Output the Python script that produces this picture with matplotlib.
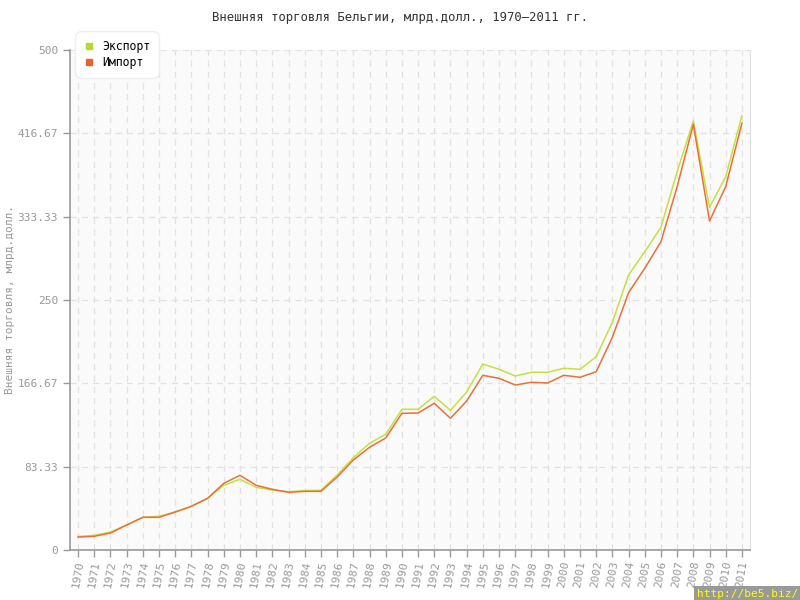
import matplotlib.pyplot as plt
from matplotlib.lines import Line2D

plt.rcParams['font.family'] = ['DejaVu Sans Mono']

# years and trade values, bln USD
years = list(range(1970, 2012))
export = [13.5, 14.7, 18, 25, 32.7, 33.7, 38, 43.7, 51.7, 64.7,
          70.7, 62.7, 60, 58.3, 59.3, 59.7, 75, 92.3, 106.7, 115.7,
          140.7, 140.7, 153.7, 139.7, 158, 186, 180.7, 174, 177.7, 177.7,
          181.7, 180.7, 193.3, 227.7, 275, 298.3, 322.7, 378.3, 429, 342.7,
          373.3, 434.3]
imports = [13, 13.7, 17, 25, 32.7, 32.7, 38, 43.7, 51.7, 66.7,
           74.7, 64.7, 60.7, 57.7, 58.7, 58.7, 73, 90, 102.7, 112,
           136.7, 137, 146.7, 131.7, 149, 174.7, 171.7, 165, 167.7, 167,
           174.7, 172.7, 178.3, 212.7, 257.3, 281.7, 308.3, 363.3, 425.7, 329,
           363.3, 426.7]
yticks = [0, 83.33, 166.67, 250, 333.33, 416.67, 500]
ytick_labels = ['0', '83.33', '166.67', '250', '333.33', '416.67', '500']

exp_color = '#c5e040'
imp_color = '#e8703a'
gray = '#999999'

fig = plt.figure(figsize=(8, 6), dpi=100)
ax = fig.add_axes([0.0875, 0.0833, 0.85, 0.8334])
ax.set_facecolor('#fafafa')

ax.plot(years, export, color=exp_color, lw=1.1, zorder=3)
ax.plot(years, imports, color=imp_color, lw=1.1, zorder=4)

ax.set_xlim(1969.5, 2011.5)
ax.set_ylim(0, 500)
ax.set_xticks(years)
ax.set_xticklabels([str(y) for y in years], rotation=80, fontsize=8, color=gray)
ax.set_yticks(yticks)
ax.set_yticklabels(ytick_labels, fontsize=8, color=gray)

ax.grid(True, color='#e2e2e2', linestyle=(0, (5, 4)), lw=0.9)
ax.set_axisbelow(True)
ax.tick_params(axis='both', color=gray, length=5, width=1)
ax.tick_params(axis='x', pad=2)

for s in ['left', 'bottom']:
    ax.spines[s].set_color(gray)
    ax.spines[s].set_linewidth(1.2)
ax.spines['right'].set_color('#e0e0e0')
ax.spines['top'].set_visible(False)

fig.text(0.0125, 0.5, 'Внешняя торговля, млрд.долл.', rotation=90,
         ha='center', va='center', fontsize=8, color=gray)
fig.text(0.5, 0.97, 'Внешняя торговля Бельгии, млрд.долл., 1970–2011 гг.',
         ha='center', va='center', fontsize=8.8, color='#333333')

handles = [Line2D([], [], marker='s', ls='', color='#b5d930', markersize=4.5),
           Line2D([], [], marker='s', ls='', color='#e8632c', markersize=4.5)]
leg = ax.legend(handles, ['Экспорт', 'Импорт'], loc='upper left',
                bbox_to_anchor=(0.012, 1.032), fontsize=8.3, frameon=True,
                fancybox=True, framealpha=1, edgecolor='#eeeeee',
                handlelength=0.8, handletextpad=0.8, borderpad=0.5,
                labelspacing=0.3, borderaxespad=0)
leg.get_frame().set_boxstyle('round,pad=0.25,rounding_size=0.6')
leg.set_zorder(10)

fig.text(0.998, 0.002, 'http://be5.biz/', ha='right', va='bottom', fontsize=8,
         color='#ffff00', bbox=dict(facecolor='#999999', edgecolor='none', pad=2))

fig.savefig('out.png', dpi=100)
